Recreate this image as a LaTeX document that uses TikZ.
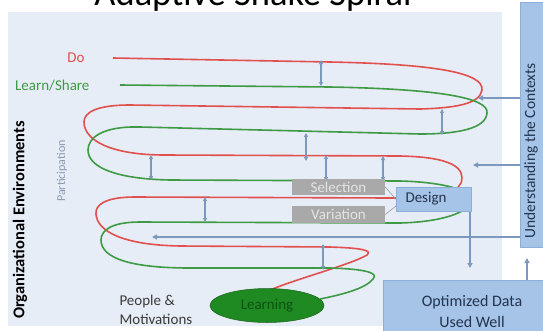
\documentclass[tikz,border=0pt]{standalone}
\usepackage{fontspec}
\setmainfont{Carlito}
\usetikzlibrary{arrows.meta,shapes.geometric}

\definecolor{panel}{HTML}{E7EDF6}
\definecolor{dored}{HTML}{E0504E}
\definecolor{learngreen}{HTML}{3E9A45}
\definecolor{steel}{HTML}{7C98BC}
\definecolor{boxblue}{HTML}{A6C4E8}
\definecolor{boxedge}{HTML}{8DAED6}
\definecolor{greybox}{HTML}{A9A9A9}
\definecolor{greytext}{HTML}{E4E4E4}
\definecolor{navy}{HTML}{22344E}
\definecolor{darkgreen}{HTML}{1F8A22}
\definecolor{leaftext}{HTML}{0E4F12}
\definecolor{partic}{HTML}{8A9AB2}
\definecolor{bodytext}{HTML}{3A3A3A}

\begin{document}
\begin{tikzpicture}[x=1pt,y=-1pt,
  fs/.style={font=\fontsize{#1}{#1}\selectfont},
  link/.style={steel, line width=1.5pt, -{Triangle[length=5pt,width=5pt]}},
  gap/.style={steel, line width=1.3pt, {Triangle[length=4pt,width=4pt]}-{Triangle[length=4pt,width=4pt]}},
  doline/.style={dored, line width=1.6pt},
  learnline/.style={learngreen, line width=1.6pt},
  bluebox/.style={fill=boxblue, draw=boxedge, line width=0.6pt, inner sep=0pt},
  greyitem/.style={fill=greybox, draw=none, text=greytext, minimum width=93pt, inner sep=0pt, fs=15},
  tie/.style={draw=gray!80, line width=0.6pt},
]
\useasboundingbox (0,0) rectangle (543,330);

% title, cut by the top edge of the page
\node[fs=36.5, anchor=base] (title) at (253,5.5) {Adaptive Snake Spiral};

% light panel
\fill[panel] (8,12) rectangle (502,326);

% Do spiral
\draw[doline] (113,58) -- (330,62)
  .. controls (430,64) and (484,72) .. (482,90)
  .. controls (480,104) and (455,108) .. (420,109)
  -- (130,105)
  .. controls (95,105) and (84,113) .. (84,122)
  .. controls (84,140) and (110,155) .. (165,155)
  -- (400,156)
  .. controls (452,157) and (466,168) .. (461,183)
  .. controls (456,195) and (430,198) .. (390,198)
  -- (135,197)
  .. controls (105,197) and (95,205) .. (96,214)
  .. controls (97,231) and (122,245) .. (180,246)
  -- (330,247)
  .. controls (360,248) and (373,250) .. (367,255)
  .. controls (350,265) and (292,280) .. (268,291);

% Learn/Share spiral
\draw[learnline] (120,85) -- (330,87)
  .. controls (440,89) and (489,98) .. (487,113)
  .. controls (486,128) and (460,134) .. (420,134)
  -- (140,127)
  .. controls (102,126) and (88,138) .. (88,150)
  .. controls (88,168) and (118,179) .. (170,180)
  -- (400,181)
  .. controls (442,182) and (472,190) .. (471,200)
  .. controls (470,213) and (440,222) .. (400,223)
  -- (140,222)
  .. controls (112,222) and (101,230) .. (101,240)
  .. controls (101,258) and (130,268) .. (190,268)
  -- (330,268)
  .. controls (366,269) and (379,273) .. (373,279)
  .. controls (366,288) and (345,294) .. (320,299);

% gaps between the two strands
\coordinate (g1a) at (321,60);  \coordinate (g1b) at (321,86);
\coordinate (g2a) at (442,109); \coordinate (g2b) at (442,135);
\coordinate (g3a) at (306,133); \coordinate (g3b) at (306,161);
\coordinate (g4a) at (151,155); \coordinate (g4b) at (151,180);
\coordinate (g5a) at (326,155); \coordinate (g5b) at (326,181);
\coordinate (g6a) at (383,156); \coordinate (g6b) at (383,181);
\coordinate (g7a) at (205,197); \coordinate (g7b) at (205,222);
\coordinate (g8a) at (323,244); \coordinate (g8b) at (323,270);
\foreach \g in {g1,g2,g3,g4,g5,g6,g7,g8}
  \draw[gap] (\g a) -- (\g b);

% right column boxes
\node[bluebox, minimum width=30pt, minimum height=245pt, anchor=north west] (ctx) at (520,2) {};
\node[fs=15.5, text=navy, rotate=90] (ctxlabel) at (531,151) {Understanding the Contexts};
\node[bluebox, minimum width=170pt, minimum height=60pt, anchor=north west] (opt) at (383,280) {};
\node[font=\fontsize{16}{21}\selectfont, text=navy, align=center] (optlabel) at (472,311) {Optimized Data\\Used Well};

% selection / variation / design
\node[greyitem, minimum height=16pt] (sel) at (338.5,187) {Selection};
\node[greyitem, minimum height=17pt] (var) at (338.5,214.5) {Variation};
\node[bluebox, minimum width=75pt, minimum height=24pt, anchor=north west] (design) at (396,187) {};
\node[fs=15, text=navy, anchor=west] (designlabel) at (402,199) {Design};
\draw[tie] (sel.east) -- (design.west);
\draw[tie] (var.east) -- (design.190);

% feedback arrows
\coordinate (hit1) at (478,98);
\coordinate (hit2) at (473,165);
\coordinate (hit3) at (152,237);
\draw[link] (ctx.west |- hit1) -- (hit1);
\draw[link] (ctx.west |- hit2) -- (hit2);
\draw[link] (ctx.west |- hit3) -- (hit3);
\coordinate (drop) at (470,268);
\draw[link] (design.south -| drop) -- (drop);
\coordinate (rise) at (527,258);
\draw[link] (opt.north -| rise) -- (rise);

% learning core
\node[ellipse, fill=darkgreen, draw=darkgreen!70!black, line width=0.5pt,
      minimum width=114pt, minimum height=34pt, inner sep=0pt,
      text=leaftext, fs=15] (learning) at (267,305.5) {Learning};

% labels
\node[fs=15, text=dored, anchor=east] (dolabel) at (88,58) {Do};
\node[fs=15, text=learngreen, anchor=east] (learnlabel) at (93,86) {Learn/Share};
\node[fs=12, text=partic, rotate=90] (participation) at (62,171) {Participation};
\node[font=\fontsize{16.5}{16.5}\selectfont\bfseries, rotate=90] (orgenv) at (20,220) {Organizational Environments};
\node[font=\fontsize{15}{19}\selectfont, text=bodytext, align=left, anchor=north west] (people) at (116,292) {People \&\\Motivations};
\end{tikzpicture}
\end{document}
